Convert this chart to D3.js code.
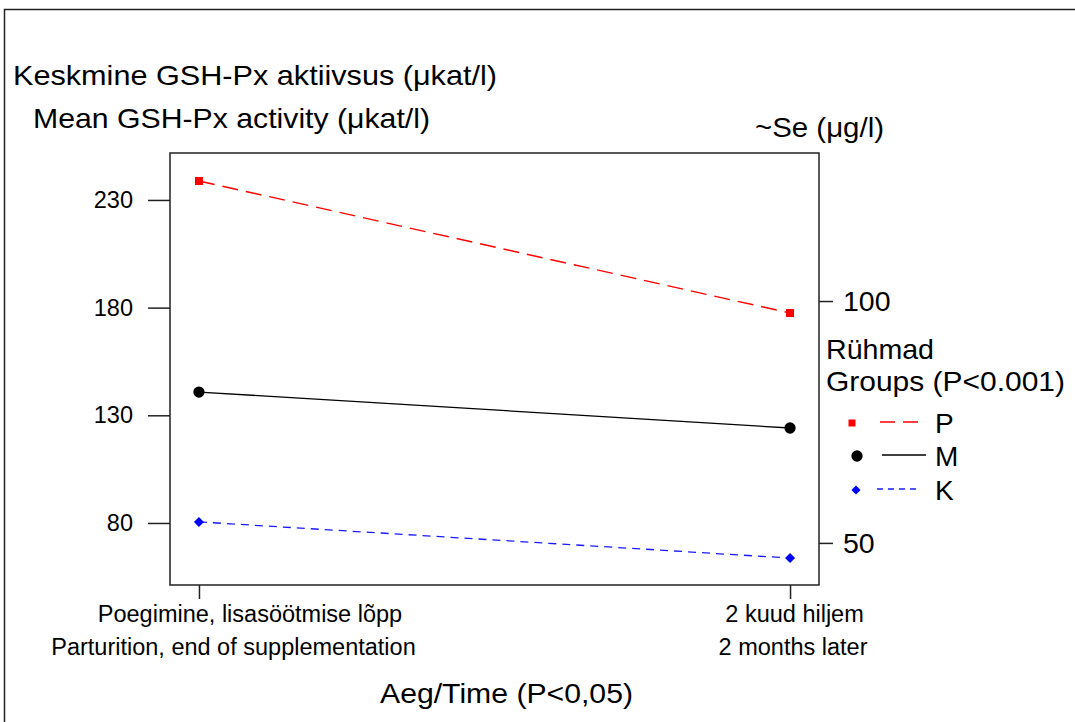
<!DOCTYPE html>
<html>
<head>
<meta charset="utf-8">
<script src="https://cdn.jsdelivr.net/npm/d3@7"></script>
<style>
  html, body { margin: 0; padding: 0; background: #fff; }
  svg { display: block; font-family: "Liberation Sans", Arial, sans-serif; }
</style>
</head>
<body>
<svg id="chart" width="1075" height="722"></svg>
<script>
// ---- data ----
const timesEt = ["Poegimine, lisasöötmise lõpp", "2 kuud hiljem"];
const timesEn = ["Parturition, end of supplementation", "2 months later"];
const groups = ["P", "M", "K"];
const valuesP = [238.8, 177.5];
const valuesM = [140.8, 124.1];
const valuesK = [80.5, 63.7];
const leftTicks = [80, 130, 180, 230];
const rightTicks = [50, 100];
const titleEt = "Keskmine GSH-Px aktiivsus (\u03bckat/l)";
const titleEn = "Mean GSH-Px activity (\u03bckat/l)";
const rightTitle = "~Se (\u03bcg/l)";
const legendTitle1 = "Rühmad";
const legendTitle2 = "Groups (P<0.001)";
const xTitle = "Aeg/Time (P<0,05)";

// ---- layout ----
const svg = d3.select("#chart");
const box = { x0: 170, x1: 819, y0: 153, y1: 585 };

const x = d3.scalePoint().domain(timesEn).range([box.x0, box.x1]).padding(0.049);
const yL = d3.scaleLinear().domain([51.2, 251.8]).range([box.y1, box.y0]);
const yR = d3.scaleLinear().domain([41.3, 130.6]).range([box.y1, box.y0]);

// outer frame
svg.append("rect").attr("x", 4.5).attr("y", 9.5).attr("width", 1100).attr("height", 740)
  .attr("fill", "none").attr("stroke", "#222").attr("stroke-width", 1.5);

// plot box
svg.append("rect").attr("x", box.x0).attr("y", box.y0)
  .attr("width", box.x1 - box.x0).attr("height", box.y1 - box.y0)
  .attr("fill", "none").attr("stroke", "#222").attr("stroke-width", 1.5);

// left axis
const gL = svg.append("g").attr("transform", `translate(${box.x0},0)`)
  .call(d3.axisLeft(yL).tickValues(leftTicks).tickSize(22).tickPadding(15));
gL.select(".domain").remove();
gL.selectAll("line").attr("stroke", "#222").attr("stroke-width", 1.5);
gL.selectAll("text").attr("font-size", 23.5).attr("font-family", "Liberation Sans, Arial, sans-serif").attr("fill", "#000");

// right axis
const gR = svg.append("g").attr("transform", `translate(${box.x1},0)`)
  .call(d3.axisRight(yR).tickValues(rightTicks).tickSize(14).tickPadding(10));
gR.select(".domain").remove();
gR.selectAll("line").attr("stroke", "#222").attr("stroke-width", 1.5);
gR.selectAll("text").attr("font-size", 28.5).attr("font-family", "Liberation Sans, Arial, sans-serif").attr("fill", "#000");

// bottom axis
const gB = svg.append("g").attr("transform", `translate(0,${box.y1})`)
  .call(d3.axisBottom(x).tickSize(14).tickFormat(""));
gB.select(".domain").remove();
gB.selectAll("line").attr("stroke", "#222").attr("stroke-width", 1.5);

// x labels
const labelOffsets = [[51, 34.5], [4.5, 3]];
timesEn.forEach((t, i) => {
  svg.append("text").attr("x", x(t) + labelOffsets[i][0]).attr("y", 622)
    .attr("text-anchor", "middle").attr("font-size", 23.5).text(timesEt[i]);
  svg.append("text").attr("x", x(t) + labelOffsets[i][1]).attr("y", 655)
    .attr("text-anchor", "middle").attr("font-size", 23.5).text(timesEn[i]);
});

// titles
svg.append("text").attr("x", 13).attr("y", 85).attr("font-size", 28)
  .attr("textLength", 484).attr("lengthAdjust", "spacingAndGlyphs").text(titleEt);
svg.append("text").attr("x", 33).attr("y", 128).attr("font-size", 28)
  .attr("textLength", 397).attr("lengthAdjust", "spacingAndGlyphs").text(titleEn);
svg.append("text").attr("x", 755).attr("y", 137).attr("font-size", 28)
  .attr("textLength", 129).attr("lengthAdjust", "spacingAndGlyphs").text(rightTitle);
svg.append("text").attr("x", 380).attr("y", 703).attr("font-size", 28.5)
  .attr("textLength", 253).attr("lengthAdjust", "spacingAndGlyphs").text(xTitle);
svg.append("text").attr("x", 826).attr("y", 359).attr("font-size", 28.5)
  .attr("textLength", 108).attr("lengthAdjust", "spacingAndGlyphs").text(legendTitle1);
svg.append("text").attr("x", 826).attr("y", 391).attr("font-size", 28.5)
  .attr("textLength", 239).attr("lengthAdjust", "spacingAndGlyphs").text(legendTitle2);

// series
const series = [
  { name: groups[0], values: valuesP, color: "#ff0000", fill: "#ff0000", dash: "16,8", width: 1.4, shape: d3.symbolSquare, size: 64, rot: 0 },
  { name: groups[1], values: valuesM, color: "#000000", fill: "#000000", dash: null, width: 1.3, shape: d3.symbolCircle, size: 100, rot: 0 },
  { name: groups[2], values: valuesK, color: "#1a1aff", fill: "#0000ff", dash: "8,6", width: 1.3, shape: d3.symbolSquare, size: 50, rot: 45 }
];

const line = d3.line().x((d, i) => x(timesEn[i])).y(d => yL(d));

series.forEach(s => {
  svg.append("path").datum(s.values).attr("d", line)
    .attr("fill", "none").attr("stroke", s.color).attr("stroke-width", s.width)
    .attr("stroke-dasharray", s.dash);
  svg.selectAll(null).data(s.values).enter().append("path")
    .attr("transform", (d, i) => `translate(${x(timesEn[i])},${yL(d)}) rotate(${s.rot})`)
    .attr("d", d3.symbol().type(s.shape).size(s.size))
    .attr("fill", s.fill);
});

// legend
const legY = [423, 456, 490];
const legX = [852, 857, 856];
const legSize = [49, 100, 42];
const legLine = [[880, 918], [882, 926], [877, 917]];
const legDash = ["15,8", null, "6,5"];
series.forEach((s, i) => {
  svg.append("path").attr("transform", `translate(${legX[i]},${legY[i]}) rotate(${s.rot})`)
    .attr("d", d3.symbol().type(s.shape).size(legSize[i]))
    .attr("fill", s.fill);
  svg.append("line").attr("x1", legLine[i][0]).attr("x2", legLine[i][1])
    .attr("y1", legY[i] - 1).attr("y2", legY[i] - 1)
    .attr("stroke", s.color).attr("stroke-width", s.width)
    .attr("stroke-dasharray", legDash[i]);
  svg.append("text").attr("x", 935).attr("y", legY[i] + 10).attr("font-size", 28).text(s.name);
});
</script>
</body>
</html>
